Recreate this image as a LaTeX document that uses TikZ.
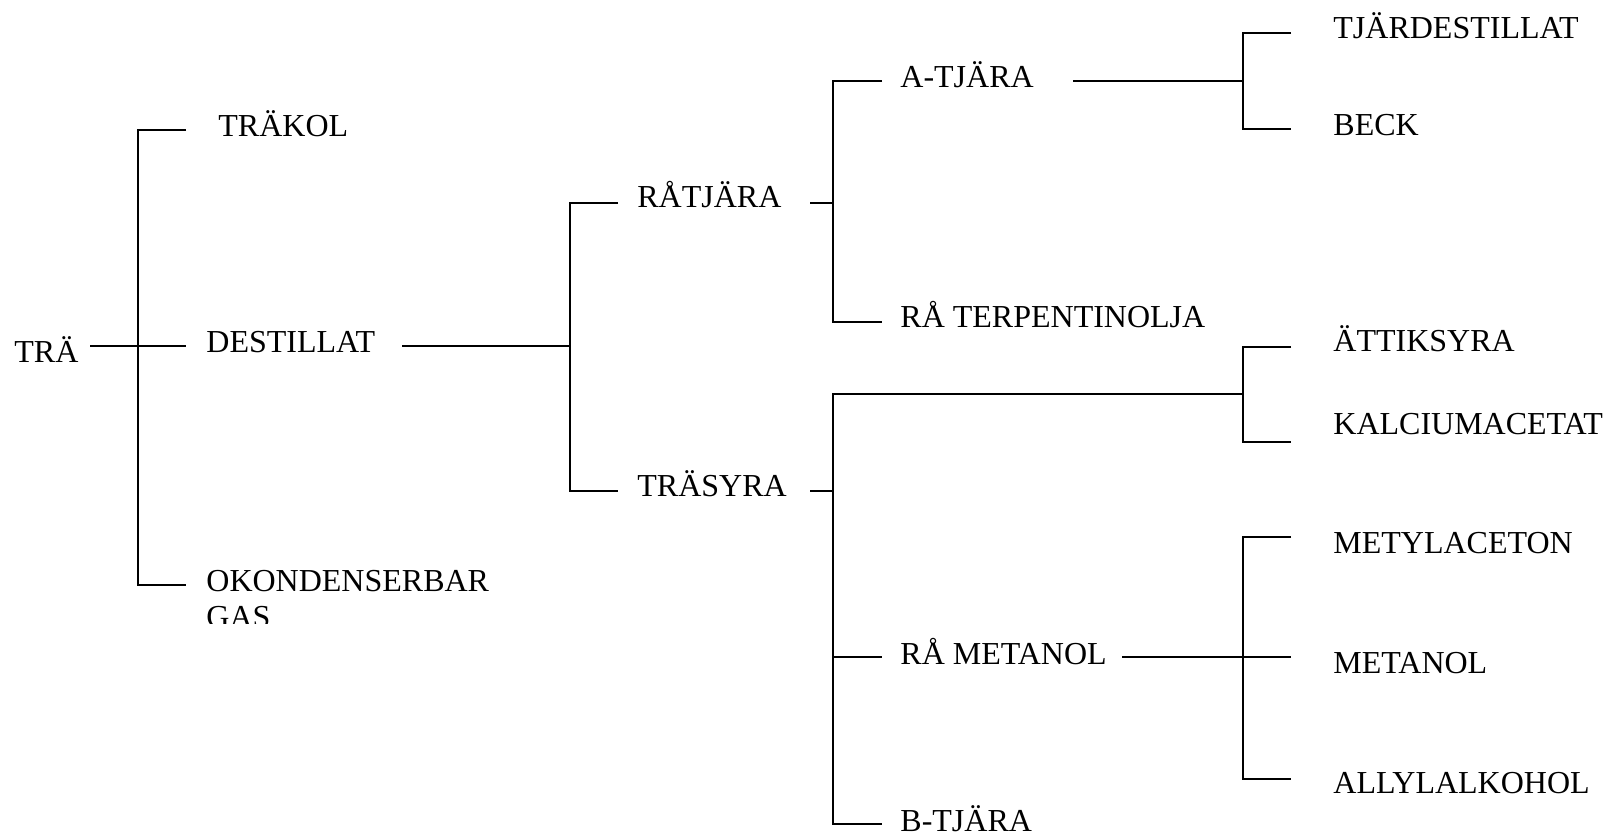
\documentclass[tikz,border=0pt]{standalone}
\usepackage{fontspec}
\setmainfont{Liberation Serif}
\begin{document}
\begin{tikzpicture}[x=0.5pt,y=-0.5pt,
  lbl/.style={anchor=base west, inner sep=0pt, font=\fontsize{16}{18}\selectfont},
  conn/.style={line width=0.9pt, line join=miter}]
\useasboundingbox (0,0) rectangle (1613,835);

% ---- labels ----
\node[lbl] (tra) at (14,362) {TRÄ};
\node[lbl] (trakol) at (218,136) {TRÄKOL};
\node[lbl] (destillat) at (206,352) {DESTILLAT};
\begin{scope}
  \clip (195,560) rectangle (520,623);
  \node[lbl, align=left] (gas) at (206,627) {OKONDENSERBAR\\GAS};
\end{scope}
\node[lbl] (ratjara) at (637,207) {RÅTJÄRA};
\node[lbl] (trasyra) at (637,496) {TRÄSYRA};
\node[lbl] (atjara) at (900,87) {A-TJÄRA};
\node[lbl] (terp) at (900,327) {RÅ TERPENTINOLJA};
\node[lbl] (rametanol) at (900,664) {RÅ METANOL};
\node[lbl] (btjara) at (900,831) {B-TJÄRA};
\node[lbl] (tjardest) at (1333,39) {TJÄRDESTILLAT};
\node[lbl] (beck) at (1333,135) {BECK};
\node[lbl] (attik) at (1333,351) {ÄTTIKSYRA};
\node[lbl] (kalcium) at (1333,434) {KALCIUMACETAT};
\node[lbl] (metylac) at (1333,553) {METYLACETON};
\node[lbl] (metanol) at (1333,673) {METANOL};
\node[lbl] (allyl) at (1333,793) {ALLYLALKOHOL};

% ---- connector points ----
% bracket 1 (TRÄ)
\coordinate (a0) at (90,346);
\coordinate (a1) at (186,130);
\coordinate (a1t) at (138,130);
\coordinate (a2) at (186,346);
\coordinate (a3) at (186,585);
\coordinate (a3b) at (138,585);
% bracket 2 (DESTILLAT)
\coordinate (b0) at (402,346);
\coordinate (bj) at (570,346);
\coordinate (b1) at (618,203);
\coordinate (b1t) at (570,203);
\coordinate (b2) at (618,491);
\coordinate (b2b) at (570,491);
% bracket 3 (RÅTJÄRA)
\coordinate (c0) at (810,203);
\coordinate (cj) at (833,203);
\coordinate (c1) at (882,81);
\coordinate (c1t) at (833,81);
\coordinate (c2) at (882,322);
\coordinate (c2b) at (833,322);
% bracket 4 (A-TJÄRA)
\coordinate (d0) at (1073,81);
\coordinate (dj) at (1243,81);
\coordinate (d1) at (1291,33);
\coordinate (d1t) at (1243,33);
\coordinate (d2) at (1291,129);
\coordinate (d2b) at (1243,129);
% bracket 5 (TRÄSYRA)
\coordinate (e0) at (810,491);
\coordinate (ej) at (833,491);
\coordinate (e1t) at (833,394);
\coordinate (e1) at (1243,394);
\coordinate (e2) at (882,657);
\coordinate (e2j) at (833,657);
\coordinate (e3) at (882,824);
\coordinate (e3b) at (833,824);
% bracket 6 (ättiksyra / kalciumacetat)
\coordinate (f1) at (1291,347);
\coordinate (f1t) at (1243,347);
\coordinate (f2) at (1291,442);
\coordinate (f2b) at (1243,442);
% bracket 7 (RÅ METANOL)
\coordinate (g0) at (1122,657);
\coordinate (g1) at (1291,537);
\coordinate (g1t) at (1243,537);
\coordinate (g2) at (1291,657);
\coordinate (g3) at (1291,779);
\coordinate (g3b) at (1243,779);

% ---- connectors ----
\draw[conn] (a1) -- (a1t) -- (a3b) -- (a3);
\draw[conn] (a0) -- (a2);
\draw[conn] (b0) -- (bj);
\draw[conn] (b1) -- (b1t) -- (b2b) -- (b2);
\draw[conn] (c0) -- (cj);
\draw[conn] (c1) -- (c1t) -- (c2b) -- (c2);
\draw[conn] (d0) -- (dj);
\draw[conn] (d1) -- (d1t) -- (d2b) -- (d2);
\draw[conn] (e0) -- (ej);
\draw[conn] (e1) -- (e1t) -- (e3b) -- (e3);
\draw[conn] (e2j) -- (e2);
\draw[conn] (f1) -- (f1t) -- (f2b) -- (f2);
\draw[conn] (g0) -- (g2);
\draw[conn] (g1) -- (g1t) -- (g3b) -- (g3);
\end{tikzpicture}
\end{document}
